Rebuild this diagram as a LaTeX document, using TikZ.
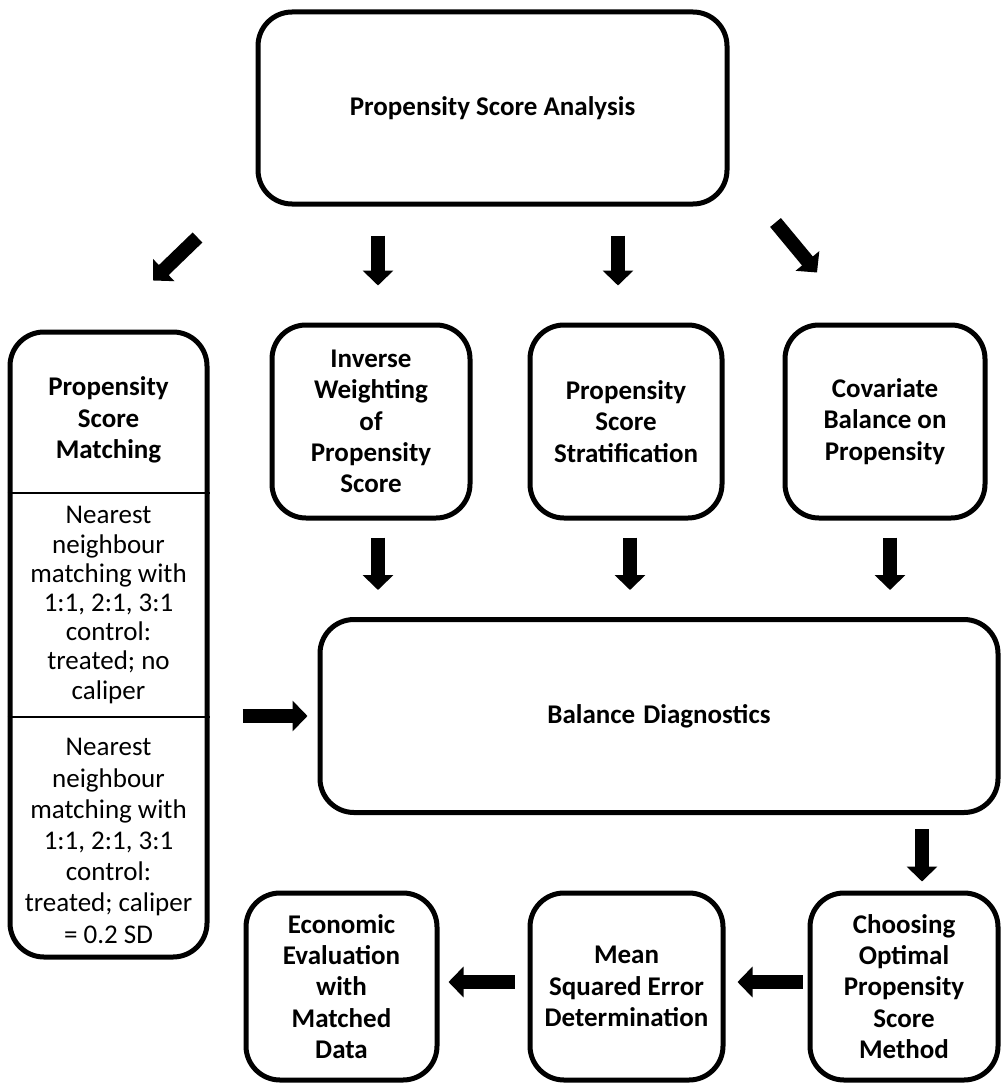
\documentclass[tikz,border=0pt]{standalone}
\usepackage{fontspec}
\setmainfont{Carlito}
\usepackage{tikz}
\usetikzlibrary{positioning,calc,arrows.meta}

\tikzset{
  stage/.style={draw,line width=2.5pt,rounded corners=17pt,align=center,
    font=\fontsize{13.5}{15.6}\selectfont\bfseries,inner sep=0pt},
  plain/.style={align=center,font=\fontsize{13.5}{15.6}\selectfont,inner sep=0pt},
  fat/.style={line width=7pt,-{Triangle[width=15pt,length=7.5pt]}}
}

\begin{document}
\begin{tikzpicture}[x=0.5pt,y=-0.5pt]
  \useasboundingbox (0,0) rectangle (1002,1086);
  % main box on top
  \node[stage,minimum width=234.5pt,minimum height=96pt] (top) at (492.5,108) {Propensity Score Analysis};
  % the four methods
  \node[stage,minimum width=98.5pt,minimum height=312.5pt] (psm) at (108.5,644.5) {};
  \node[stage,minimum width=99pt,minimum height=96.5pt] (iwps) at (371,421.5) {Inverse\\Weighting\\of\\Propensity\\Score};
  \node[stage,minimum width=96pt,minimum height=96.5pt] (pss) at (626,421.5) {Propensity\\Score\\Stratification};
  \node[stage,minimum width=100pt,minimum height=96.5pt] (cbp) at (885,421.5) {Covariate\\Balance on\\Propensity};
  % matching box split in three
  \node[plain,font=\fontsize{13.5}{15.6}\selectfont\bfseries] (psmt) at (108.5,420) {Propensity\\Score\\Matching};
  \node[plain,font=\fontsize{13.5}{14.6}\selectfont] (psma) at (108.5,605) {Nearest\\neighbour\\matching with\\1:1, 2:1, 3:1\\control:\\treated; no\\caliper};
  \node[plain] (psmb) at (108.5,841) {Nearest\\neighbour\\matching with\\1:1, 2:1, 3:1\\control:\\treated; caliper\\= 0.2 SD};
  \draw[line width=1pt] (psm.west |- 0,493) -- (psm.east |- 0,493);
  \draw[line width=1pt] (psm.west |- 0,717) -- (psm.east |- 0,717);
  % diagnostics and the last steps
  \node[stage,minimum width=339pt,minimum height=96.5pt] (bd) at (659,716) {Balance\hspace{0.3em}Diagnostics};
  \node[stage,minimum width=94pt,minimum height=93.5pt] (cho) at (904,986.5) {Choosing\\Optimal\\Propensity\\Score\\Method};
  \node[stage,minimum width=96.5pt,minimum height=93.5pt] (mse) at (626.5,986.5) {Mean\\Squared Error\\Determination};
  \node[stage,minimum width=95.5pt,minimum height=93.5pt] (eco) at (341.5,986.5) {Economic\\Evaluation\\with\\Matched\\Data};

  \draw[fat] ([shift={(-58,31)}]top.south west) -- ([shift={(44.5,-49)}]psm.north);
  \draw[fat,shorten <=14.5pt,shorten >=18.5pt] ([xshift=3.5pt]top.south -| iwps.north) -- ([xshift=3.5pt]iwps.north);
  \draw[fat,shorten <=14.5pt,shorten >=18.5pt] ([xshift=-4pt]top.south -| pss.north) -- ([xshift=-4pt]pss.north);
  \draw[fat] ([shift={(46,16)}]top.south east) -- ([shift={(-68,-50)}]cbp.north);

  \draw[fat,shorten <=8.5pt,shorten >=13.5pt] ([xshift=3.5pt]iwps.south) -- ([xshift=3.5pt]iwps.south |- bd.north);
  \draw[fat,shorten <=8.5pt,shorten >=13.5pt] ([xshift=2pt]pss.south) -- ([xshift=2pt]pss.south |- bd.north);
  \draw[fat,shorten <=8.5pt,shorten >=13.5pt] ([xshift=2.5pt]cbp.south) -- ([xshift=2.5pt]cbp.south |- bd.north);

  \draw[fat,shorten <=16.5pt,shorten >=5pt] (psm.east |- bd.west) -- (bd.west);
  \draw[fat,shorten <=7pt,shorten >=4.5pt] ([xshift=9pt]cho.north |- bd.south) -- ([xshift=9pt]cho.north);
  \draw[fat,shorten <=2.5pt,shorten >=6pt] (cho.west |- 0,982) -- (mse.east |- 0,982);
  \draw[fat,shorten <=6.5pt,shorten >=4.5pt] (mse.west |- 0,982) -- (eco.east |- 0,982);
\end{tikzpicture}
\end{document}
